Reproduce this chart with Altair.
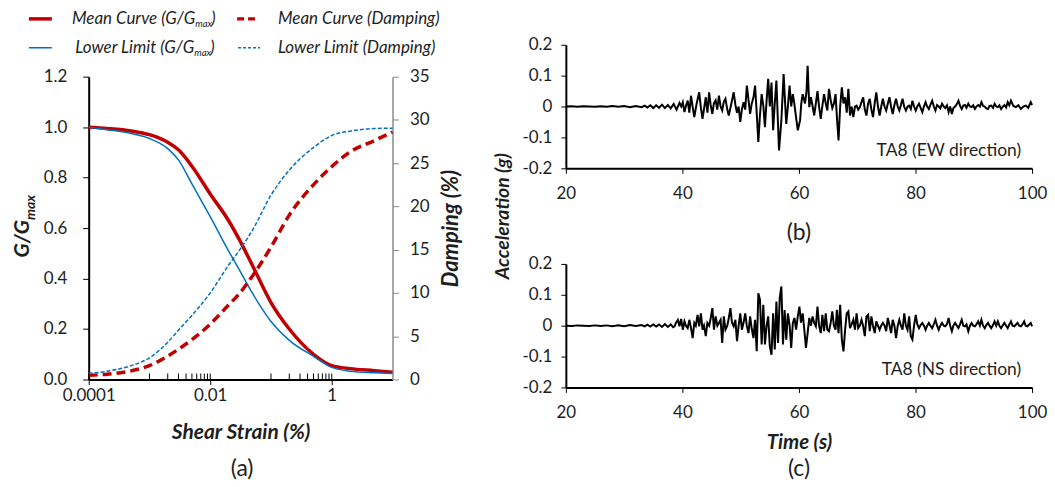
import altair as alt
import pandas as pd

# ---------------- data: modulus reduction / damping ----------------
strain = [0.0001, 0.0002, 0.0005, 0.001, 0.002, 0.003, 0.005, 0.01, 0.02, 0.03,
          0.05, 0.1, 0.2, 0.5, 1, 2, 5, 10]
mean_g = [1.0, 0.995, 0.985, 0.97, 0.94, 0.91, 0.845, 0.735, 0.63, 0.555,
          0.45, 0.305, 0.2, 0.10, 0.055, 0.043, 0.035, 0.029]
lower_g = [1.0, 0.99, 0.975, 0.955, 0.915, 0.87, 0.775, 0.645, 0.51, 0.435,
           0.34, 0.23, 0.155, 0.092, 0.048, 0.033, 0.027, 0.024]
mean_damp = [0.5, 0.6, 1.0, 1.6, 2.7, 3.5, 4.6, 6.4, 8.6, 9.9,
             12.0, 15.3, 19.0, 22.5, 24.6, 26.3, 27.6, 28.6]
lower_damp = [0.7, 0.95, 1.6, 2.5, 4.3, 5.7, 7.4, 10.0, 13.2, 14.9,
              17.3, 21.3, 24.2, 26.8, 28.2, 28.7, 29.0, 29.05]
series_names = ["Mean", "Lower"]
strain_labels = [0.0001, 0.01, 1]
strain_minor = [0.001, 0.002, 0.003, 0.004, 0.005, 0.006, 0.007, 0.008, 0.009,
                0.1, 0.2, 0.3, 0.4, 0.5, 0.6, 0.7, 0.8, 0.9]
g_ticks = [0, 0.2, 0.4, 0.6, 0.8, 1.0, 1.2]
damp_ticks = [0, 5, 10, 15, 20, 25, 30, 35]

# ---------------- data: acceleration time histories ----------------
ew_trace = [
    (20, 0.0), (21, 0.001), (22, -0.001), (23, 0.001), (24, 0.0), (25, -0.001), (26, 0.001),
    (27, -0.001), (28, 0.002), (29, -0.001), (30, 0.002), (31, -0.002), (32, 0.002), (33, -0.002),
    (33.5, 0.003), (34, -0.003), (34.5, 0.004), (35, -0.005), (35.5, 0.004), (36, -0.004),
    (36.5, 0.006), (37, -0.005), (37.5, 0.005), (38, -0.006), (38.5, 0.008), (39, -0.01),
    (39.5, 0.012), (39.8, 0.0),
    (40.07, 0.014), (40.35, -0.018), (40.65, 0.005), (40.91, 0.019), (41.19, -0.02), (41.48, 0.035),
    (41.75, 0.0), (42.04, -0.034), (42.45, 0.01), (42.88, 0.046), (43.15, 0.0), (43.45, -0.04),
    (44.01, 0.03), (44.3, -0.02), (44.58, 0.046), (44.85, 0.005), (45.14, -0.024), (45.4, 0.01),
    (45.7, 0.02), (45.98, -0.01), (46.27, 0.035), (46.55, 0.0), (46.83, -0.013), (47.1, 0.015),
    (47.39, 0.025), (47.7, -0.01), (47.96, -0.029), (48.4, 0.01), (48.8, 0.046), (49.1, 0.005),
    (49.37, -0.02), (49.65, 0.0), (49.93, -0.05), (50.2, -0.01), (50.5, 0.014), (50.78, -0.01),
    (51.06, 0.068), (51.35, 0.02), (51.62, -0.024), (51.9, 0.01), (52.2, 0.03), (52.47, 0.068),
    (52.75, -0.02), (53.03, -0.115), (53.3, -0.03), (53.6, 0.04), (53.9, 0.0), (54.16, -0.067),
    (54.45, 0.02), (54.72, 0.09), (55.0, 0.0), (55.29, 0.078), (55.57, -0.077), (55.85, 0.01),
    (56.13, 0.084), (56.35, -0.03), (56.58, -0.142), (56.98, -0.045), (57.37, 0.105), (57.6, 0.02),
    (57.82, -0.056), (58.1, 0.0), (58.39, 0.068), (58.67, 0.0), (58.95, 0.04), (59.2, 0.01),
    (59.4, -0.02), (59.8, -0.077), (60.19, -0.045), (60.4, 0.01), (60.64, 0.04), (61.04, 0.01),
    (61.3, 0.05), (61.49, 0.132), (61.77, -0.002), (62.05, 0.03), (62.35, 0.0), (62.62, -0.029),
    (62.9, 0.01), (63.18, 0.05), (63.45, 0.0), (63.74, -0.04), (64.0, 0.0), (64.31, 0.04),
    (64.6, 0.01), (64.87, -0.013), (65.15, 0.057), (65.45, 0.02), (65.72, -0.005), (66.0, 0.01),
    (66.28, 0.04), (66.51, -0.034), (66.79, -0.11), (67.07, 0.0), (67.36, 0.062), (67.64, 0.01),
    (67.92, 0.03), (68.2, -0.02), (68.48, 0.057), (68.76, -0.029), (69.05, 0.0), (69.33, -0.034),
    (69.61, 0.0), (69.89, 0.003), (70.17, -0.01), (70.46, -0.002), (70.74, 0.015), (71.02, 0.03),
    (71.3, -0.01), (71.58, -0.029), (71.87, 0.01), (72.15, 0.025), (72.43, -0.01), (72.71, -0.034),
    (72.99, 0.01), (73.27, 0.046), (73.56, 0.0), (73.84, -0.029), (74.12, 0.0), (74.4, 0.025),
    (74.68, 0.0), (74.97, -0.013), (75.25, 0.01), (75.53, 0.03), (75.81, 0.0), (76.09, -0.024),
    (76.38, 0.005), (76.66, 0.025), (76.95, 0.0), (77.22, -0.013), (77.5, 0.005), (77.78, 0.025),
    (78.05, 0.0), (78.35, -0.013), (78.65, 0.0), (78.91, 0.003), (79.2, -0.008), (79.47, 0.019),
    (79.75, 0.0), (80.04, -0.013), (80.3, 0.0), (80.6, 0.009), (80.9, -0.005), (81.17, -0.018),
    (81.45, 0.0), (81.73, 0.014), (82.0, 0.0), (82.29, -0.008), (82.55, 0.005), (82.86, 0.019),
    (83.15, 0.0), (83.42, -0.013), (83.7, 0.005), (83.98, 0.0), (84.25, -0.006), (84.55, 0.009),
    (84.85, 0.0), (85.11, -0.005), (85.4, 0.004), (85.68, -0.018), (85.95, 0.0), (86.24, -0.024),
    (86.5, -0.005), (86.8, 0.0), (87.1, 0.008), (87.37, 0.019), (87.65, 0.002), (87.93, -0.008),
    (88.2, 0.003), (88.49, 0.005), (88.75, -0.004), (89.06, 0.009), (89.35, 0.0), (89.62, -0.002),
    (89.9, 0.004), (90.19, -0.008), (90.45, 0.0), (90.75, 0.005), (91.05, 0.0), (91.31, 0.014),
    (91.6, 0.002), (91.88, 0.0), (92.15, -0.006), (92.44, -0.008), (92.7, 0.002), (93.0, 0.003),
    (93.3, -0.004), (93.57, 0.009), (93.85, 0.0), (94.13, -0.002), (94.4, 0.004), (94.69, -0.008),
    (95.0, 0.0), (95.26, 0.005), (95.55, -0.003), (95.82, 0.014), (96.1, 0.004), (96.38, 0.019),
    (96.8, 0.002), (97.23, -0.002), (97.65, 0.004), (98.08, -0.008), (98.5, 0.0), (98.92, 0.003),
    (99.35, -0.004), (99.77, 0.014), (100.0, 0.005),
]
ns_trace = [
    (20, 0.0), (21, -0.001), (22, 0.001), (23, 0.0), (24, -0.001), (25, 0.001), (26, -0.001),
    (27, 0.001), (28, -0.002), (29, 0.001), (30, -0.002), (31, 0.002), (32, -0.001), (33, 0.002),
    (33.5, -0.002), (34, 0.003), (34.5, -0.003), (35, 0.004), (35.5, -0.003), (36, 0.004),
    (36.5, -0.004), (37, 0.005), (37.5, -0.004), (38, 0.004), (38.4, -0.005), (38.66, -0.002),
    (38.9, 0.01), (39.22, 0.019), (39.5, -0.002), (39.78, 0.022), (40.07, -0.013), (40.35, 0.014),
    (40.6, 0.0), (40.91, -0.008), (41.19, 0.019), (41.5, -0.01), (41.76, -0.04), (42.04, 0.009),
    (42.3, 0.0), (42.6, 0.035), (42.88, -0.002), (43.17, 0.04), (43.45, -0.013), (43.7, 0.0),
    (44.01, -0.034), (44.29, 0.009), (44.6, 0.0), (44.86, 0.025), (45.14, 0.057), (45.42, -0.013),
    (45.7, 0.03), (46.0, 0.0), (46.27, 0.009), (46.55, 0.019), (46.83, -0.056), (47.11, 0.03),
    (47.39, -0.013), (47.7, 0.0), (47.96, 0.025), (48.24, 0.057), (48.5, 0.01), (48.8, -0.002),
    (49.09, 0.019), (49.37, -0.05), (49.65, 0.0), (49.93, 0.04), (50.21, -0.013), (50.5, 0.01),
    (50.78, 0.04), (51.05, 0.0), (51.34, -0.024), (51.62, 0.03), (51.9, -0.01), (52.19, -0.04),
    (52.47, 0.019), (52.75, -0.083), (53.03, 0.105), (53.31, 0.084), (53.6, -0.061), (53.88, 0.068),
    (54.16, -0.061), (54.45, 0.0), (54.72, 0.03), (55.0, -0.067), (55.29, -0.094), (55.57, 0.04),
    (55.85, -0.077), (56.13, 0.078), (56.41, -0.056), (56.7, 0.089), (56.98, 0.127), (57.26, -0.061),
    (57.54, 0.051), (57.82, -0.045), (58.1, 0.04), (58.4, 0.0), (58.67, -0.072), (58.95, 0.009),
    (59.23, 0.025), (59.51, -0.013), (59.8, 0.03), (60.08, 0.062), (60.35, 0.01), (60.64, 0.04),
    (60.92, -0.013), (61.2, -0.072), (61.49, -0.024), (61.77, 0.025), (62.05, 0.0), (62.33, 0.03),
    (62.6, 0.01), (62.9, -0.002), (63.18, 0.062), (63.45, 0.0), (63.74, -0.024), (64.02, 0.035),
    (64.31, -0.018), (64.59, 0.04), (64.87, -0.013), (65.15, -0.018), (65.45, 0.01), (65.72, 0.046),
    (66.0, 0.0), (66.28, -0.013), (66.51, 0.051), (66.79, -0.024), (67.07, 0.068), (67.36, -0.045),
    (67.64, -0.083), (67.92, -0.013), (68.2, 0.04), (68.48, 0.046), (68.76, -0.008), (69.05, 0.005),
    (69.33, 0.019), (69.61, -0.013), (69.89, 0.04), (70.17, -0.008), (70.45, 0.0), (70.74, 0.019),
    (71.0, 0.0), (71.3, -0.034), (71.58, 0.03), (71.87, 0.035), (72.15, -0.018), (72.43, 0.03),
    (72.7, 0.0), (73.0, -0.024), (73.27, 0.014), (73.55, 0.0), (73.84, -0.013), (74.1, 0.0),
    (74.4, 0.009), (74.7, 0.0), (74.97, -0.018), (75.25, 0.025), (75.55, 0.0), (75.81, -0.024),
    (76.09, 0.019), (76.38, 0.0), (76.66, -0.04), (76.95, 0.0), (77.22, 0.019), (77.5, 0.0),
    (77.78, -0.013), (78.07, 0.04), (78.35, 0.0), (78.63, -0.013), (78.91, 0.03), (79.19, -0.034),
    (79.47, -0.045), (79.75, 0.0), (80.04, 0.035), (80.3, 0.005), (80.6, -0.008), (80.9, 0.003),
    (81.17, 0.009), (81.45, 0.0), (81.73, -0.013), (82.0, 0.0), (82.29, 0.009), (82.55, 0.0),
    (82.86, -0.008), (83.15, 0.005), (83.42, 0.019), (83.7, 0.0), (83.98, -0.013), (84.25, 0.0),
    (84.55, 0.009), (84.85, 0.0), (85.11, -0.002), (85.4, 0.005), (85.68, 0.025), (85.95, 0.0),
    (86.24, -0.018), (86.5, 0.0), (86.8, 0.009), (87.1, 0.0), (87.37, -0.008), (87.65, 0.005),
    (87.93, 0.019), (88.2, 0.0), (88.49, -0.002), (88.75, 0.004), (89.06, -0.018), (89.35, 0.0),
    (89.62, 0.009), (89.9, 0.0), (90.19, -0.002), (90.45, 0.004), (90.75, 0.014), (91.05, 0.0),
    (91.31, 0.019), (91.6, 0.0), (91.88, -0.008), (92.15, 0.002), (92.44, 0.009), (92.7, 0.0),
    (93.0, -0.008), (93.3, 0.002), (93.57, 0.014), (93.85, 0.0), (94.13, 0.014), (94.4, 0.0),
    (94.69, -0.008), (95.0, 0.002), (95.26, 0.009), (95.55, 0.0), (95.82, -0.008), (96.1, 0.004),
    (96.38, 0.014), (96.65, 0.0), (96.95, -0.002), (97.25, 0.004), (97.51, 0.009), (97.8, 0.0),
    (98.08, -0.002), (98.35, 0.004), (98.64, 0.014), (98.9, 0.0), (99.2, -0.002), (99.5, 0.004),
    (99.77, 0.009), (100.0, -0.002),
]
time_ticks = [20, 40, 60, 80, 100]
acc_ticks = [-0.2, -0.1, 0, 0.1, 0.2]

# ---------------- styling ----------------
FONT = "Lato"
INK = "#1e1e1e"
RED = "#C00000"
BLUE = "#0070C0"
ONE = alt.Data(values=[{"k": 1}])

W_L, H_L = 305, 304
W_R, H_R = 468, 124


def text(s, x, y, size=17, style="normal", weight="normal", align="left", angle=0):
    return alt.Chart(ONE).mark_text(
        text=s, font=FONT, fontSize=size, fontStyle=style, fontWeight=weight,
        align=align, baseline="middle", angle=angle, color=INK,
    ).encode(x=alt.value(x), y=alt.value(y))


def sample(x1, x2, y, color, width, dash=None, opacity=1):
    kw = dict(color=color, strokeWidth=width, opacity=opacity)
    if dash:
        kw["strokeDash"] = dash
    return alt.Chart(ONE).mark_rule(**kw).encode(
        x=alt.value(x1), x2=alt.value(x2), y=alt.value(y))


n = len(strain)
dfG = pd.DataFrame({"strain": strain * 2, "value": mean_g + lower_g,
                    "series": [series_names[0]] * n + [series_names[1]] * n})
dfD = pd.DataFrame({"strain": strain * 2, "value": mean_damp + lower_damp,
                    "series": [series_names[0]] * n + [series_names[1]] * n})

xscale = alt.Scale(type="log", domain=[0.0001, 10], nice=False)
xaxis = alt.Axis(
    values=strain_labels,
    labelExpr="datum.value == 0.0001 ? '0.0001' : datum.value == 0.01 ? '0.01' : '1'",
    title="Shear Strain (%)", titleY=53, titleBaseline="middle", titleFontSize=21,
    domainColor="black", domainWidth=2, tickColor="black", tickSize=5, labelPadding=3,
    labelOverlap=False)
xenc = alt.X("strain:Q", scale=xscale, axis=xaxis)
color = alt.Color("series:N", scale=alt.Scale(domain=series_names, range=[RED, BLUE]), legend=None)
swidth = alt.StrokeWidth("series:N", scale=alt.Scale(domain=series_names, range=[3.5, 1.5]), legend=None)

g_lines = alt.Chart(dfG).mark_line(interpolate="monotone").encode(
    x=xenc,
    y=alt.Y("value:Q", scale=alt.Scale(domain=[0, 1.2], nice=False), axis=alt.Axis(
        orient="left", values=g_ticks, format=".1f", title=None,
        domainColor="black", domainWidth=2, tickColor="black", tickSize=6, labelPadding=16)),
    color=color, strokeWidth=swidth, detail="series:N",
)

d_lines = alt.Chart(dfD).mark_line(interpolate="monotone").encode(
    x=xenc,
    y=alt.Y("value:Q", scale=alt.Scale(domain=[0, 35], nice=False), axis=alt.Axis(
        orient="right", values=damp_ticks, title="Damping (%)", titleAngle=270, titleFontSize=22,
        titleX=58, titleY=H_L / 2, titleAlign="center", titleBaseline="middle",
        domainColor="#8a8a8a", domainWidth=1.5, tickColor="#8a8a8a", tickSize=6, labelPadding=11)),
    color=color, strokeWidth=swidth,
    strokeDash=alt.StrokeDash("series:N", scale=alt.Scale(domain=series_names, range=[[9, 5], [4, 2]]), legend=None),
)

minor = alt.Chart(pd.DataFrame({"strain": strain_minor})).mark_rule(color="black", strokeWidth=1).encode(
    x=xenc, y=alt.value(H_L - 6), y2=alt.value(H_L))
major = alt.Chart(pd.DataFrame({"strain": strain_labels})).mark_rule(color="black", strokeWidth=1).encode(
    x=xenc, y=alt.value(H_L - 6), y2=alt.value(H_L))

left_texts = [
    sample(-81, 380, -68, "white", 1, opacity=0),  # invisible frame edge for layout
    sample(-60, -37, -58, RED, 3.5),
    sample(149, 171, -58, RED, 3.5, [7, 4]),
    sample(-60, -37, -29, BLUE, 1.5),
    sample(150, 172, -29, BLUE, 1.5, [3, 2]),
    text("Mean Curve (G/G", 107, -58, style="italic", align="right"),
    text("max", 107, -53, size=9.5, style="italic"),
    text(")", 123, -58, style="italic"),
    text("Mean Curve (Damping)", 190, -58, style="italic"),
    text("Lower Limit (G/G", 106, -29, style="italic", align="right"),
    text("max", 106, -24, size=9.5, style="italic"),
    text(")", 122, -29, style="italic"),
    text("Lower Limit (Damping)", 190, -29, style="italic"),
    text("G/G", -66, 144, size=21, style="italic", weight="bold", align="right", angle=270),
    text("max", -58, 144, size=14, style="italic", weight="bold", align="left", angle=270),
    text("(a)", 154, 394, size=23, align="center"),
]

left = alt.layer(g_lines, d_lines, minor, major, *left_texts).resolve_scale(y="independent").properties(
    width=W_L, height=H_L)

spacer = alt.Chart(ONE).mark_point(opacity=0).encode(x=alt.value(0), y=alt.value(0)).properties(
    width=W_L, height=32)

acc_label = ("datum.value == 0 ? '0' : (datum.value < 0 ? '-' + format(-datum.value, '.1f') "
             ": format(datum.value, '.1f'))")


def trace_panel(trace, name, xtitle, tag):
    df = pd.DataFrame(trace, columns=["t", "a"])
    line = alt.Chart(df).mark_line(color="black", strokeWidth=2).encode(
        x=alt.X("t:Q", scale=alt.Scale(domain=[20, 100], nice=False), axis=alt.Axis(
            values=time_ticks, title=xtitle, titleY=55, titleBaseline="middle", titleFontSize=20.5,
            domainColor="black", domainWidth=2, tickColor="black", tickSize=5, labelPadding=12)),
        y=alt.Y("a:Q", scale=alt.Scale(domain=[-0.2, 0.2], nice=False), axis=alt.Axis(
            values=acc_ticks, labelExpr=acc_label, title=None,
            domainColor="black", domainWidth=2, tickColor="black", tickSize=5, labelPadding=9)),
    )
    layers = [line,
              text(name, 457, 107, size=17.5, align="right"),
              text(tag, W_R / 2, 189 if xtitle is None else 206, size=23, align="center")]
    return layers


top_layers = trace_panel(ew_trace, "TA8 (EW direction)", None, "(b)")
top_layers.append(text("Acceleration (g)", -63, 172, size=19.5, style="italic", weight="bold",
                       align="center", angle=270))
top_layers.append(sample(-80, 0, -36, "white", 1, opacity=0))  # invisible frame edge for layout
top = alt.layer(*top_layers).properties(width=W_R, height=H_R)
bottom = alt.layer(*trace_panel(ns_trace, "TA8 (NS direction)", "Time (s)", "(c)")).properties(
    width=W_R, height=H_R)

chart = alt.hconcat(
    alt.vconcat(spacer, left, spacing=0, bounds="flush"),
    alt.vconcat(top, bottom, spacing=96, bounds="flush"),
    spacing=19,
).properties(
    padding={"left": 0, "top": 0, "right": 0, "bottom": 0}
).configure_view(stroke=None).configure_axis(
    grid=False, labelFlush=False, labelFont=FONT, labelFontSize=17, labelColor=INK,
    titleFont=FONT, titleFontSize=21, titleFontStyle="italic", titleFontWeight="bold", titleColor=INK,
)

chart.save("out.html", embed_options={"renderer": "svg", "actions": False})
